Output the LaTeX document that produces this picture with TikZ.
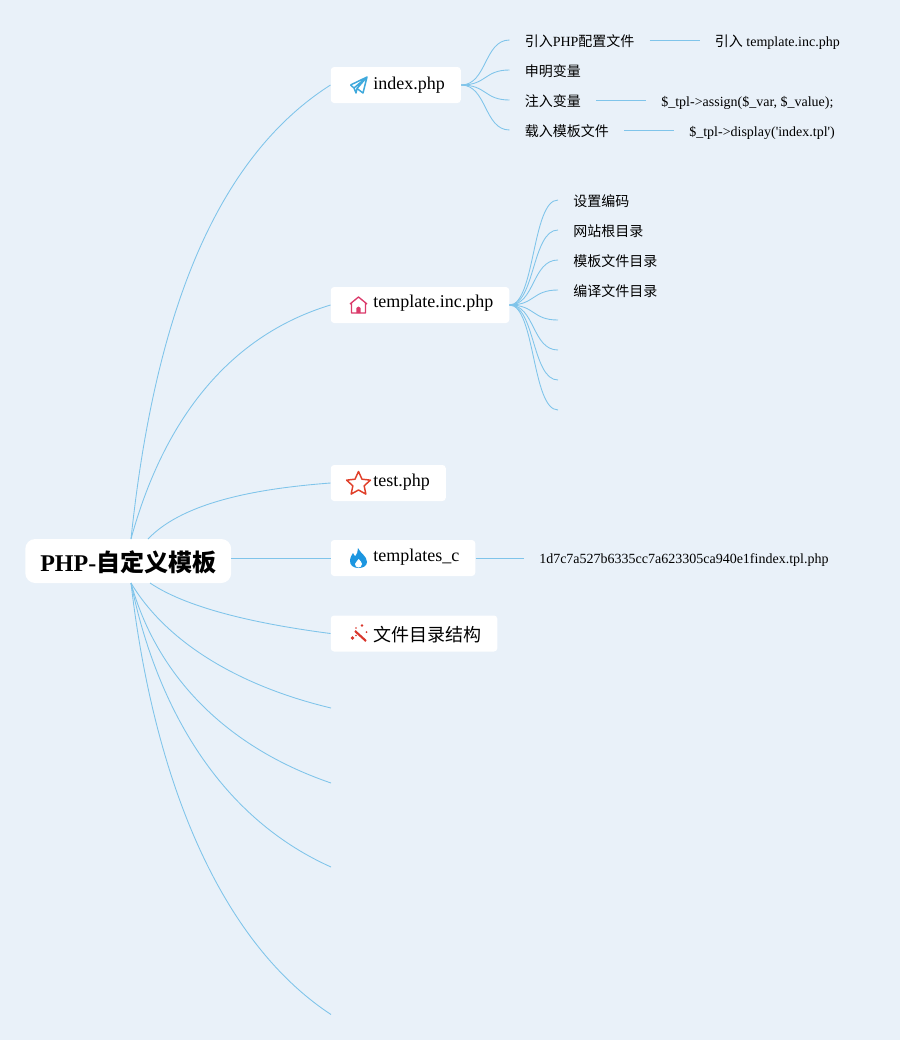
\documentclass[tikz,border=0pt]{standalone}
\usepackage{fontspec}
\setmainfont{Liberation Serif}
\newfontfamily\cjk{Noto Sans CJK SC}
\usepackage{xcolor}
\usetikzlibrary{shapes.geometric,positioning}
\definecolor{canvas}{HTML}{E9F1F9}
\definecolor{wire}{HTML}{7FC4EA}
\definecolor{planeblue}{HTML}{3FA9DC}
\definecolor{housepink}{HTML}{DB3A6A}
\definecolor{starred}{HTML}{E0402A}
\definecolor{flameblue}{HTML}{1C96E0}
\definecolor{wandred}{HTML}{D9352B}
\newcommand{\zh}[1]{{\cjk #1}}
\newcommand{\iconroom}{\hspace*{19.9pt}}

\begin{document}
\begin{tikzpicture}[
    x=0.75pt, y=-0.75pt,
    root/.style={rectangle, fill=white, rounded corners=7.5pt, anchor=west, inner xsep=11.25pt, inner ysep=0pt, minimum height=33pt, text height=18pt, text depth=3pt, font=\fontsize{18pt}{20pt}\bfseries},
    topic/.style={rectangle, fill=white, rounded corners=2.5pt, anchor=west, inner xsep=12pt, inner ysep=0pt, minimum height=27pt, text height=10.3pt, text depth=4pt, font=\fontsize{13.5pt}{16pt}\selectfont},
    leaf/.style={rectangle, anchor=west, inner xsep=11.25pt, inner ysep=0pt, minimum height=15pt, text height=12pt, text depth=1.9pt, font=\fontsize{10.5pt}{12pt}\selectfont},
    link/.style={draw=wire, line width=0.65pt}
]
\useasboundingbox[fill=canvas] (0,0) rectangle (900,1040);

\node[root] (php) at (25,561) {PHP-\zh{\bfseries 自定义模板}};
\node[topic] (indexphp) at (330.5,85) {\iconroom index.php};
\node[topic] (templateinc) at (330.5,305) {\iconroom \raisebox{1.1pt}{template.inc.php}};
\node[topic] (testphp) at (330.5,483) {\iconroom \raisebox{0.75pt}{test.php}};
\node[topic] (templatesc) at (330.5,558) {\iconroom \raisebox{0.75pt}{templates\_c}};
\node[topic] (filetree) at (330.5,633.5) {\iconroom \raisebox{-2.5pt}{\zh{文件目录结构}}};

\node[leaf] (config) at (509.5,40) {\zh{引入}PHP\zh{配置文件}};
\node[leaf] (declare) at (509.5,70) {\zh{申明变量}};
\node[leaf] (inject) at (509.5,100) {\zh{注入变量}};
\node[leaf] (load) at (509.5,130) {\zh{载入模板文件}};
\node[leaf, right=37.5pt of config] (include) {\zh{引入} template.inc.php};
\node[leaf, right=37.5pt of inject] (assign) {\$\_tpl->assign(\$\_var, \$\_value);};
\node[leaf, right=37.5pt of load] (display) {\$\_tpl->display(\textquotesingle index.tpl\textquotesingle)};

\node[leaf] (encoding) at (558,200) {\zh{设置编码}};
\node[leaf] (webroot) at (558,230) {\zh{网站根目录}};
\node[leaf] (tpldir) at (558,260) {\zh{模板文件目录}};
\node[leaf] (compiledir) at (558,290) {\zh{编译文件目录}};
\node[leaf] (compiled) at (524,558) {\raisebox{0.75pt}{1d7c7a527b6335cc7a623305ca940e1findex.tpl.php}};

\coordinate (phpup) at (131,539);
\coordinate (phptest) at (148,539);
\coordinate (phpdown) at (131,583);
\coordinate (phpfile) at (150,583);
\coordinate (phpright) at (231,558);
\coordinate (tplfive) at (558,320);
\coordinate (tplsix) at (558,350);
\coordinate (tplseven) at (558,380);
\coordinate (tpleight) at (558,410);
\coordinate (endone) at (331,708);
\coordinate (endtwo) at (331,783);
\coordinate (endthree) at (331,867);
\coordinate (endfour) at (331,1014.5);

\draw[link] (phpup) .. controls (152,340) and (205,165) .. (indexphp.west);
\draw[link] (phpup) .. controls (158,440) and (215,340) .. (templateinc.west);
\draw[link] (phptest) .. controls (185,500) and (265,488) .. (testphp.west);
\draw[link] (phpright) -- (templatesc.west);
\draw[link] (phpfile) .. controls (190,610) and (265,625) .. (filetree.west);
\draw[link] (phpdown) .. controls (165,640) and (235,685) .. (endone);
\draw[link] (phpdown) .. controls (155,670) and (220,745) .. (endtwo);
\draw[link] (phpdown) .. controls (155,700) and (215,815) .. (endthree);
\draw[link] (phpdown) .. controls (155,790) and (225,945) .. (endfour);

\foreach \kid in {config,declare,inject,load}
  \draw[link] (indexphp.east) .. controls (487,85) and (484,0 |- \kid.west) .. (\kid.west);
\foreach \kid in {encoding,webroot,tpldir,compiledir}
  \draw[link] (templateinc.east) .. controls (535,305) and (532,0 |- \kid.west) .. (\kid.west);
\foreach \kid in {tplfive,tplsix,tplseven,tpleight}
  \draw[link] (templateinc.east) .. controls (535,305) and (532,0 |- \kid) .. (\kid);

\draw[link] (config) -- (include);
\draw[link] (inject) -- (assign);
\draw[link] (load) -- (display);
\draw[link] (templatesc) -- (compiled);

\draw[planeblue, line width=1.1pt, line join=round] (350.5,85) -- (367,77) -- (363,93) -- (357,88.5) -- (367,77) -- (354,88) -- (356,93) -- (357,88.5) (354,88) -- (350.5,85);
\draw[housepink, line width=1pt, line join=round] (350,304) -- (358.5,297) -- (367,304) (351.5,303) -- (351.5,313) -- (365.5,313) -- (365.5,303);
\fill[housepink] (356.4,313) -- (356.4,308) -- (358.5,306.5) -- (360.6,308) -- (360.6,313) -- cycle;
\node[star, star points=5, star point ratio=2.1, draw=starred, line width=1.1pt, minimum size=18.75pt, inner sep=0pt, line join=round] (staricon) at (358.5,484) {};
\fill[flameblue] (358,548) .. controls (360,553) and (367,556) .. (367,562) .. controls (367,566) and (363,568) .. (358.5,568) .. controls (353,568) and (350,565) .. (350,561) .. controls (350,557) and (352,555) .. (353,553) .. controls (354,555) and (354.5,556) .. (355.5,556) .. controls (357,554) and (358,551) .. (358,548) -- cycle;
\fill[white] (358.7,559) .. controls (360,561) and (362,562) .. (362,564) .. controls (362,566.5) and (360,567.5) .. (358.5,567.5) .. controls (356.5,567.5) and (355,566) .. (355,564) .. controls (355,562) and (358,561) .. (358.7,559) -- cycle;
\draw[wandred, line width=1.6pt] (355,631) -- (366,641);
\fill[wandred] (362,625.5) circle (1.4) (352.5,638) circle (1.8) (366.5,632) circle (1) (356,628) circle (0.8) (356,635.5) circle (0.8);
\end{tikzpicture}
\end{document}
